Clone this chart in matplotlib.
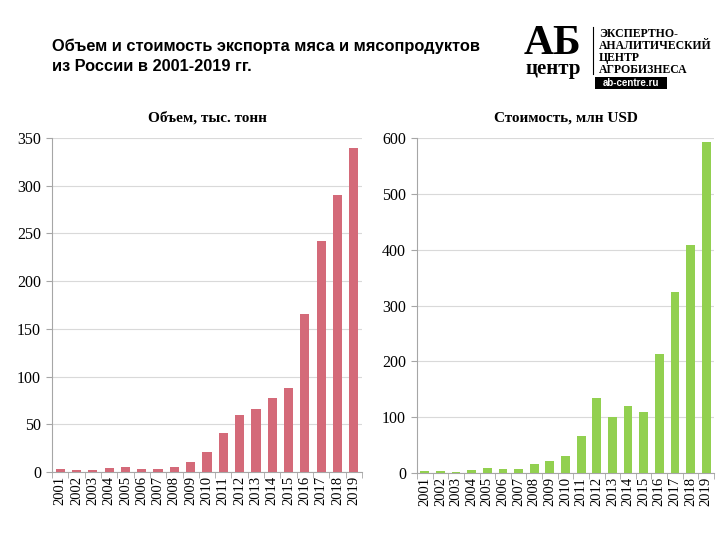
import matplotlib.pyplot as plt
from matplotlib.patches import Rectangle
from matplotlib.lines import Line2D

years = [str(y) for y in range(2001, 2020)]
volume = [3, 2, 2, 4, 5, 3, 3, 5, 10, 21, 41, 60, 66, 78, 88, 166, 242, 290, 340]
value = [3, 3, 2, 5, 9, 7, 7, 17, 22, 31, 67, 134, 100, 120, 109, 214, 325, 408, 593]

title = 'Объем и стоимость экспорта мяса и мясопродуктов\nиз России в 2001-2019 гг.'
sub_left = 'Объем, тыс. тонн'
sub_right = 'Стоимость, млн USD'

W, H = 728, 547
fig = plt.figure(figsize=(W / 100, H / 100), dpi=100)


def fx(px):
    return px / W


def fy(py):
    return 1 - py / H


def bar_panel(rect, data, color, ymax, step, subtitle):
    ax = fig.add_axes(rect)
    x = list(range(len(data)))
    ax.bar(x, data, width=0.56, color=color, zorder=3)
    ax.set_xlim(-0.5, len(data) - 0.5)
    ax.set_ylim(0, ymax)
    ax.set_yticks(range(0, ymax + 1, step))
    ax.grid(axis='y', color='#d9d9d9', linewidth=0.8, zorder=0)
    ax.set_xticks(x)
    ax.set_xticklabels(years, rotation=90, family='Liberation Serif', fontsize=10.5)
    ax.set_xticks([i + 0.5 for i in range(-1, len(data))], minor=True)
    ax.tick_params(axis='x', which='major', length=0, pad=3)
    ax.tick_params(axis='x', which='minor', length=4, color='#a6a6a6')
    ax.tick_params(axis='y', length=4, color='#a6a6a6', pad=4)
    for lab in ax.get_yticklabels():
        lab.set_family('Liberation Serif')
        lab.set_fontsize(11.5)
    for s in ['top', 'right']:
        ax.spines[s].set_visible(False)
    for s in ['left', 'bottom']:
        ax.spines[s].set_color('#a6a6a6')
    ax.set_title(subtitle, family='Liberation Serif', fontweight='bold',
                 fontsize=11, pad=12)
    return ax


bar_panel([fx(52), fy(472), fx(362) - fx(52), fy(138) - fy(472)],
          volume, '#D46A79', 350, 50, sub_left)
bar_panel([fx(417), fy(473), fx(714) - fx(417), fy(138) - fy(473)],
          value, '#92D050', 600, 100, sub_right)

fig.text(fx(52), fy(39), title, family='Liberation Sans', fontweight='bold',
         fontsize=11.8, va='top', ha='left', linespacing=1.4)

# logo
fig.text(fx(524), fy(54), 'АБ', family='Liberation Serif', fontweight='bold',
         fontsize=30, va='baseline', ha='left')
fig.text(fx(525), fy(74), 'центр', family='Liberation Serif', fontweight='bold',
         fontsize=15, va='baseline', ha='left')
fig.add_artist(Line2D([fx(593), fx(593)], [fy(27), fy(74)], color='black', linewidth=0.8))
for i, t in enumerate(['ЭКСПЕРТНО-', 'АНАЛИТИЧЕСКИЙ', 'ЦЕНТР', 'АГРОБИЗНЕСА']):
    fig.text(fx(599), fy(37 + i * 12), t, family='Liberation Serif', fontweight='bold',
             fontsize=8.5, va='baseline', ha='left')
fig.add_artist(Rectangle((fx(595), fy(89)), fx(667) - fx(595), fy(77) - fy(89),
                         facecolor='black', edgecolor='none'))
fig.text(fx(631), fy(83), 'ab-centre.ru', family='Liberation Sans', fontweight='bold',
         fontsize=7, color='white', va='center', ha='center')

fig.savefig('out.png', dpi=100)
